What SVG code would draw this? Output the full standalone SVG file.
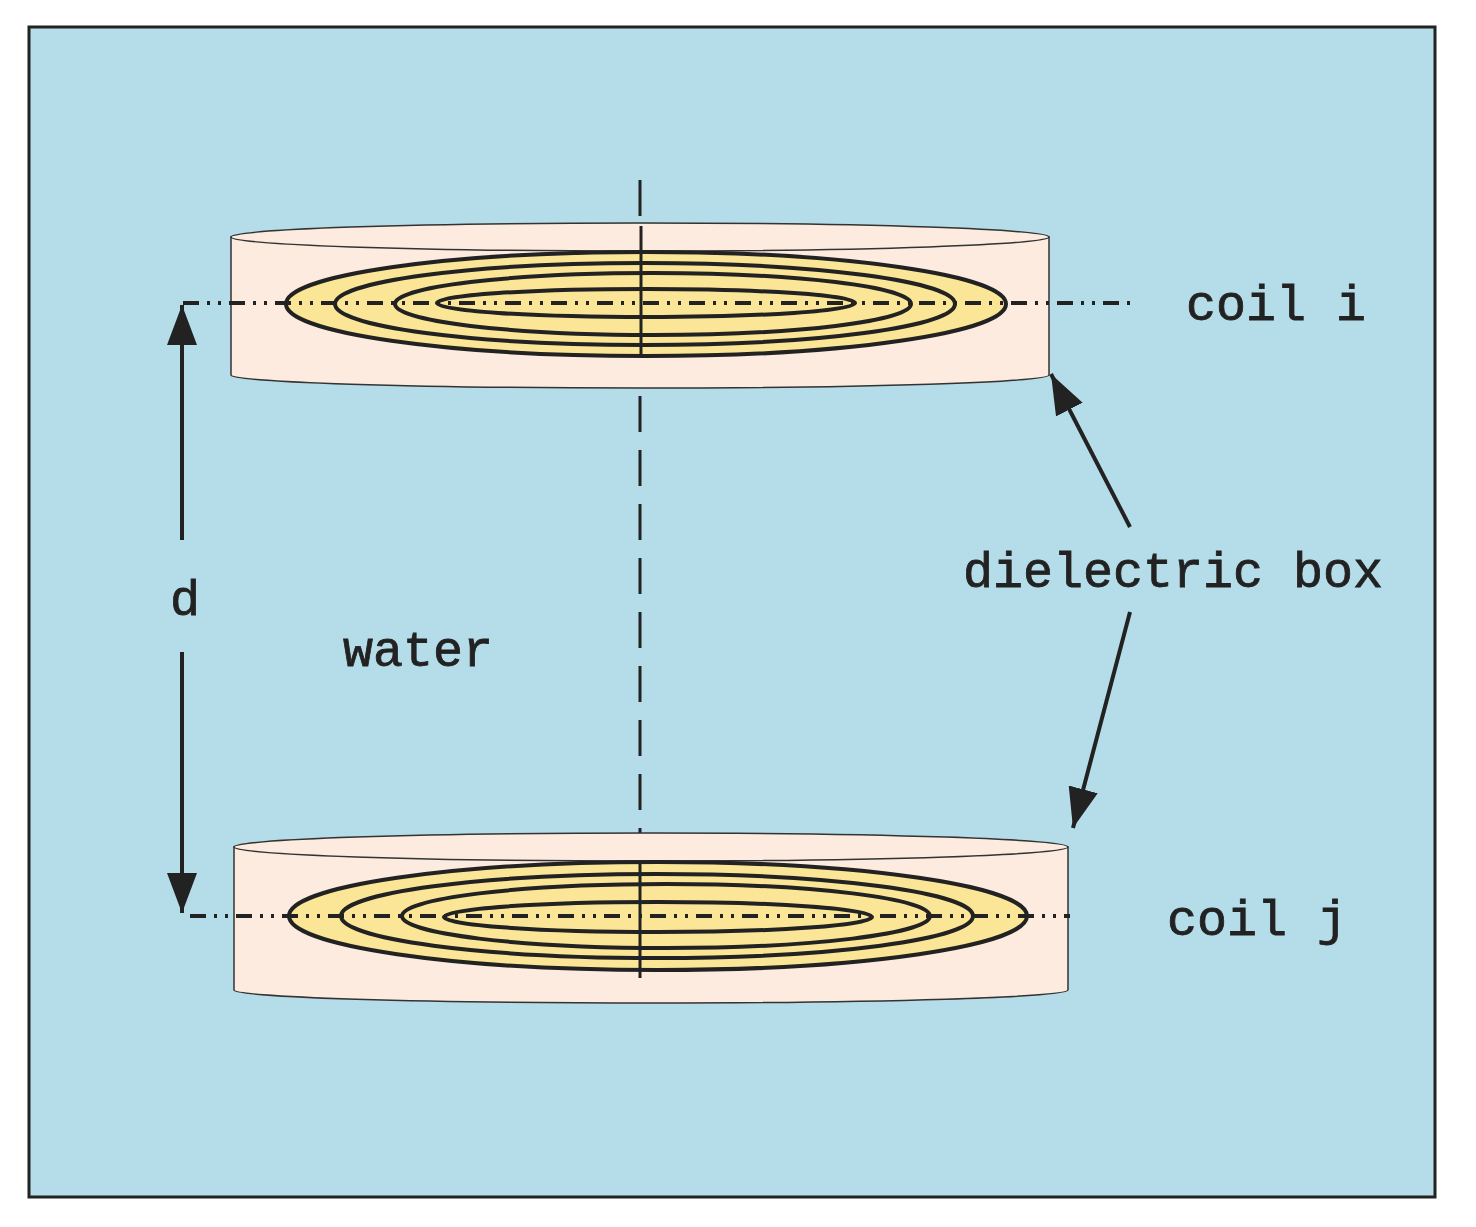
<svg xmlns="http://www.w3.org/2000/svg" width="1476" height="1227" viewBox="0 0 1476 1227">
<defs>
<style>
.t{font-family:"Liberation Mono",monospace;font-size:50px;fill:#222;stroke:#222;stroke-width:0.8}
.box{fill:#fcebde;stroke:#333;stroke-width:1.5}
.cl{fill:none;stroke:#222;stroke-width:4}
.cl.y{fill:#fbe596}
.ax{stroke:#222;stroke-width:4;stroke-dasharray:16 8 3 8 3 8}
</style>
<marker id="ah" viewBox="0 0 10 10" refX="10" refY="5" markerWidth="12" markerHeight="12" orient="auto" markerUnits="userSpaceOnUse"><path d="M0,0 L10,5 L0,10 Z" fill="#222"/></marker>
<marker id="ah2" viewBox="0 0 40 30" refX="40" refY="15" markerWidth="40" markerHeight="30" orient="auto" markerUnits="userSpaceOnUse"><path d="M0,0 L40,15 L0,30 Z" fill="#222"/></marker>
</defs>
<rect width="1476" height="1227" fill="#fff"/>
<rect x="29" y="27" width="1406" height="1170" fill="#b5dde9" stroke="#222" stroke-width="3"/>
<line x1="640" y1="180" x2="640" y2="1000" stroke="#222" stroke-width="3" stroke-dasharray="36 18"/>
<g id="coil_i">
<path class="box" d="M231,237 L231,375 A409,13 0 0 0 1049,375 L1049,237 Z"/>
<ellipse class="box" cx="640" cy="237" rx="409" ry="14"/>
<ellipse class="cl y" cx="646" cy="304" rx="360" ry="52"/>
<ellipse class="cl" cx="645" cy="304" rx="310" ry="41"/>
<ellipse class="cl" cx="653" cy="304" rx="258" ry="31"/>
<ellipse class="cl" cx="646" cy="303" rx="209" ry="14"/>
<line x1="641" y1="226" x2="641" y2="355" stroke="#222" stroke-width="3"/>
<line class="ax" x1="183" y1="303" x2="1130" y2="303"/>
</g>
<g id="coil_j">
<path class="box" d="M234,847 L234,990 A417,13 0 0 0 1068,990 L1068,847 Z"/>
<ellipse class="box" cx="651" cy="847" rx="417" ry="14"/>
<ellipse class="cl y" cx="658" cy="916" rx="369" ry="54"/>
<ellipse class="cl" cx="657" cy="916" rx="316" ry="42"/>
<ellipse class="cl" cx="666" cy="916" rx="264" ry="32"/>
<ellipse class="cl" cx="658" cy="917" rx="214" ry="15"/>
<line x1="640" y1="862" x2="640" y2="978" stroke="#222" stroke-width="3"/>
<line class="ax" x1="190" y1="916" x2="1070" y2="916"/>
</g>
<g id="connectors" stroke="#222" stroke-width="4" fill="none">
<line x1="182" y1="540" x2="182" y2="305" marker-end="url(#ah2)"/>
<line x1="182" y1="652" x2="182" y2="913" marker-end="url(#ah2)"/>
<line x1="1130" y1="527" x2="1051" y2="374" marker-end="url(#ah2)"/>
<line x1="1130" y1="612" x2="1073" y2="828" marker-end="url(#ah2)"/>
</g>
<g id="labels">
<text class="t" x="1186" y="320">coil i</text>
<text class="t" x="1167" y="935">coil j</text>
<text class="t" x="963" y="587">dielectric box</text>
<text class="t" x="343" y="666">water</text>
<text class="t" x="170" y="615">d</text>
</g>
</svg>
